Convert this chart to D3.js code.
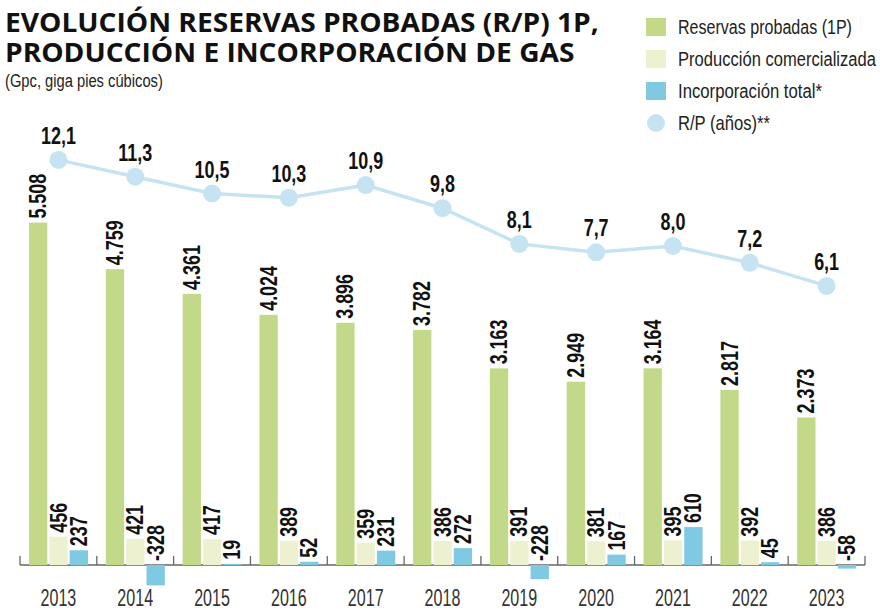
<!DOCTYPE html>
<html>
<head>
<meta charset="utf-8">
<script src="https://cdn.jsdelivr.net/npm/d3@7"></script>
<style>
  html, body { margin: 0; padding: 0; background: #fff; }
  svg { display: block; }
</style>
</head>
<body>
<svg id="chart" width="880" height="610"></svg>
<script>
const years = ["2013","2014","2015","2016","2017","2018","2019","2020","2021","2022","2023"];
const reservas = [5508, 4759, 4361, 4024, 3896, 3782, 3163, 2949, 3164, 2817, 2373];
const produccion = [456, 421, 417, 389, 359, 386, 391, 381, 395, 392, 386];
const incorporacion = [237, -328, 19, 52, 231, 272, -228, 167, 610, 45, -58];
const rp = [12.1, 11.3, 10.5, 10.3, 10.9, 9.8, 8.1, 7.7, 8.0, 7.2, 6.1];
const seriesNames = ["Reservas probadas (1P)", "Producción comercializada", "Incorporación total*", "R/P (años)**"];
const titleLines = ["EVOLUCIÓN RESERVAS PROBADAS (R/P) 1P,", "PRODUCCIÓN E INCORPORACIÓN DE GAS"];
const colors = ["#c3d98a", "#edf1d0", "#80c9e3", "#c6e3f1"];

const sans = "'Liberation Sans', Arial, sans-serif";
const svg = d3.select("#chart");
const SX = 0.78; // horizontal condensing

// scales
const x = d3.scaleBand().domain(years).range([20, 865]).paddingInner(0).paddingOuter(0);
const keys = ["res", "prod", "inc"];
const xs = d3.scaleBand().domain(keys).range([9, 68]).paddingInner(0.1);
const y = d3.scaleLinear().domain([0, 6000]).range([565, 192]);
const y2 = d3.scaleLinear().domain([0, 15]).range([414, 99]);

const fmtThousands = v => d3.format(",")(v).replace(/,/g, ".");
const fmtComma = v => d3.format(".1f")(v).replace(".", ",");

// helper: text fitted to a target width by horizontal scaling
function fitText(parent, str, x0, y0, width, attrs) {
  const t = parent.append("text").attr("x", 0).attr("y", 0);
  Object.entries(attrs).forEach(([k, v]) => t.attr(k, v));
  t.text(str);
  const len = t.node().getComputedTextLength();
  t.attr("transform", `translate(${x0},${y0}) scale(${width / len},1)`);
  return t;
}

// title (one text, two lines)
const title = svg.append("text").attr("fill", "#111")
  .attr("font-family", "'Open Sans', 'Noto Sans', sans-serif").attr("font-weight", 700).attr("font-size", 27);
const ts1 = title.append("tspan").attr("x", 0).attr("y", 0).text(titleLines[0]);
const ts2 = title.append("tspan").attr("x", 0).attr("y", 30).text(titleLines[1]);
const tScale = 594 / ts1.node().getComputedTextLength();
title.attr("transform", `translate(5,32) scale(${tScale},1)`);

fitText(svg.append("g").attr("fill", "#222"), "(Gpc, giga pies cúbicos)", 5, 87, 158, { "font-family": sans, "font-size": 19 });

// legend
const legend = svg.append("g").attr("fill", "#222");
const legY = [27, 59, 91, 123];
const legW = [174, 198, 144, 92];
seriesNames.forEach((name, i) => {
  if (i < 3) {
    legend.append("rect").attr("x", 646).attr("y", legY[i] - 9).attr("width", 20).attr("height", 18).attr("fill", colors[i]);
  } else {
    legend.append("circle").attr("cx", 656).attr("cy", legY[i]).attr("r", 9).attr("fill", colors[i]);
  }
  fitText(legend, name, 678, legY[i] + 7, legW[i], { "font-family": sans, "font-size": 21 });
});

// axis baseline + ticks
const axisG = svg.append("g").attr("stroke", "#666").attr("stroke-width", 1.3);
axisG.append("line").attr("x1", x.range()[0]).attr("x2", x.range()[1]).attr("y1", y(0)).attr("y2", y(0));
const tickPos = years.map(d => x(d)).concat([x.range()[1]]);
axisG.selectAll("line.tick").data(tickPos).join("line").attr("class", "tick")
  .attr("x1", d => d).attr("x2", d => d).attr("y1", y(0) - 9).attr("y2", y(0));

// year labels
svg.append("g").selectAll("text").data(years).join("text")
  .attr("transform", d => `translate(${x(d) + x.bandwidth() / 2},606) scale(0.7,1)`)
  .attr("text-anchor", "middle").attr("font-family", sans).attr("font-size", 23).attr("fill", "#333")
  .text(d => d);

// bars
const barData = [];
years.forEach((yr, i) => {
  barData.push({ yr, key: "res", v: reservas[i], c: colors[0], label: fmtThousands(reservas[i]) });
  barData.push({ yr, key: "prod", v: produccion[i], c: colors[1], label: String(produccion[i]) });
  barData.push({ yr, key: "inc", v: incorporacion[i], c: colors[2], label: String(incorporacion[i]) });
});
const bars = svg.append("g");
bars.selectAll("rect").data(barData).join("rect")
  .attr("x", d => x(d.yr) + xs(d.key))
  .attr("width", xs.bandwidth())
  .attr("y", d => Math.min(y(d.v), y(0)))
  .attr("height", d => Math.abs(y(d.v) - y(0)))
  .attr("fill", d => d.c);

// bar labels (rotated)
bars.selectAll("text").data(barData).join("text")
  .attr("transform", d => {
    const cx = x(d.yr) + xs(d.key) + xs.bandwidth() / 2 + 8;
    const top = (d.v >= 0 ? y(d.v) : y(0)) - 4;
    return `translate(${cx},${top}) rotate(-90) scale(${SX},1)`;
  })
  .attr("font-family", sans).attr("font-weight", 700).attr("font-size", 23).attr("fill", "#111")
  .text(d => d.label);

// R/P line
const cx = d => x(d) + x.bandwidth() / 2;
const line = d3.line().x((d, i) => cx(years[i])).y(d => y2(d));
svg.append("path").datum(rp).attr("d", line).attr("fill", "none").attr("stroke", colors[3]).attr("stroke-width", 3.5);
svg.append("g").selectAll("circle").data(rp).join("circle")
  .attr("cx", (d, i) => cx(years[i])).attr("cy", d => y2(d)).attr("r", 9).attr("fill", colors[3]);
svg.append("g").selectAll("text").data(rp).join("text")
  .attr("transform", (d, i) => `translate(${cx(years[i])},${y2(d) - 16}) scale(${SX},1)`)
  .attr("text-anchor", "middle").attr("font-family", sans).attr("font-weight", 700).attr("font-size", 23).attr("fill", "#111")
  .text(d => fmtComma(d));
</script>
</body>
</html>
